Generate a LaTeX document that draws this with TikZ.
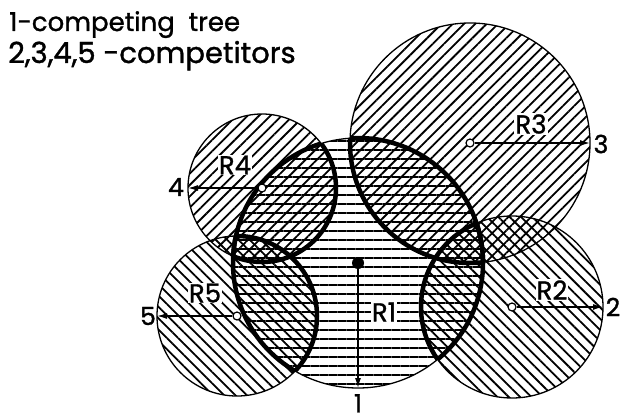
\documentclass[tikz,border=0pt]{standalone}
\usepackage{fontspec}
\setmainfont{Poppins}[FakeBold=1.2]
\usetikzlibrary{arrows.meta,patterns.meta}

\begin{document}
\begin{tikzpicture}[
  x=1pt, y=-1pt,
  level/.style={pattern={Lines[angle=0, distance=9pt, line width=1.8pt]}},
  slant/.style={pattern={Lines[angle=#1, distance=8pt, line width=1.8pt]}},
  crown/.style={draw=black, line width=1.3pt},
  lens/.style={draw=black, line width=4.5pt},
  radial/.style={-{Latex[length=10pt, width=6pt]}, line width=1.3pt},
  hub/.style={circle, draw=black, fill=white, line width=1.2pt, inner sep=0pt, minimum size=8pt},
  tag/.style={fill=white, inner sep=1pt, font=\fontsize{26}{26}\selectfont},
  num/.style={inner sep=0pt, font=\fontsize{25}{25}\selectfont},
  legend/.style={anchor=base west, inner sep=0pt}
]
\useasboundingbox (0,0) rectangle (621,420);

% tree centres
\coordinate (c1) at (358,263);
\coordinate (c2) at (512,307);
\coordinate (c3) at (470,143);
\coordinate (c4) at (262,188);
\coordinate (c5) at (237,316);

% crowns
\fill[level] (c1) circle[radius=125pt];
\fill[slant=-45] (c2) circle[radius=91pt];
\fill[slant=45] (c3) circle[radius=120pt];
\fill[slant=45] (c4) circle[radius=74pt];
\fill[slant=-45] (c5) circle[radius=80pt];

\draw[crown] (c1) circle[radius=125pt];
\draw[crown] (c2) circle[radius=91pt];
\draw[crown] (c3) circle[radius=120pt];
\draw[crown] (c4) circle[radius=74pt];
\draw[crown] (c5) circle[radius=80pt];

% overlap with the competing tree
\foreach \k/\r in {2/91, 3/120, 4/74, 5/80} {
  \begin{scope}
    \clip (c1) circle[radius=125pt];
    \draw[lens] (c\k) circle[radius=\r*1pt];
  \end{scope}
  \begin{scope}
    \clip (c\k) circle[radius=\r*1pt];
    \draw[lens] (c1) circle[radius=125pt];
  \end{scope}
}

% radii
\coordinate (e1) at (358,388);
\coordinate (e2) at (603,307);
\coordinate (e3) at (590,143);
\coordinate (e4) at (188,188);
\coordinate (e5) at (157,316);

\node[circle, fill=black, inner sep=0pt, minimum size=12pt] (h1) at (c1) {};
\node[hub] (h2) at (c2) {};
\node[hub] (h3) at (c3) {};
\node[hub] (h4) at (c4) {};
\node[hub] (h5) at (c5) {};

\draw[radial] (h1) -- (e1);
\draw[radial] (h2) -- (e2);
\draw[radial] (h3) -- (e3);
\draw[radial] (h4) -- (e4);
\draw[radial] (h5) -- (e5);

\node[tag] (r1) at (384,312) {R1};
\node[tag] (r2) at (552,290) {R2};
\node[tag] (r3) at (531,124) {R3};
\node[tag] (r4) at (235,165) {R4};
\node[tag] (r5) at (205,293) {R5};

\node[num, anchor=north] (n1) at (358,394) {1};
\node[num] (n2) at (613,307) {2};
\node[num] (n3) at (601,144) {3};
\node[num] (n4) at (176,187) {4};
\node[num] (n5) at (148,316) {5};

\node[legend, font=\fontsize{26}{26}\selectfont] (l1) at (9,31) {1-competing\ \ tree};
\node[legend, font=\fontsize{29}{29}\selectfont] (l2) at (8,63) {2,3,4,5 -competitors};
\end{tikzpicture}
\end{document}
